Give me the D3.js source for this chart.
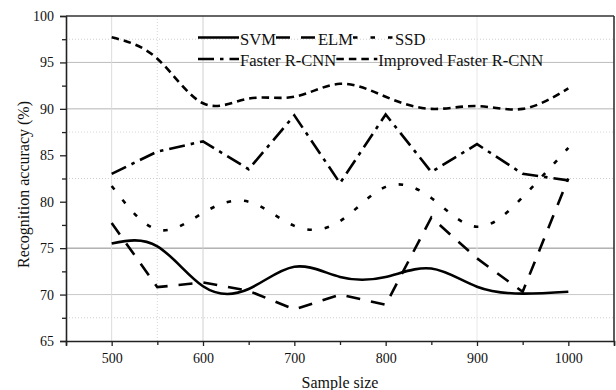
<!DOCTYPE html>
<html>
<head>
<meta charset="utf-8">
<script src="https://cdn.jsdelivr.net/npm/d3@7"></script>
<style>
  body { margin: 0; background: #fff; }
</style>
</head>
<body>
<div id="chart"></div>
<script>
// values
var sampleSizes = [500, 550, 600, 650, 700, 750, 800, 850, 900, 950, 1000];
var svmAcc      = [75.5, 75.2, 70.9, 70.6, 73.0, 71.9, 71.9, 72.8, 70.85, 70.1, 70.3];
var elmAcc      = [77.7, 70.8, 71.3, 70.4, 68.4, 70.0, 68.9, 78.3, 73.9, 70.3, 82.5];
var ssdAcc      = [81.7, 77.0, 78.8, 80.0, 77.4, 77.9, 81.6, 80.4, 77.3, 80.5, 85.8];
var fasterAcc   = [83.0, 85.4, 86.5, 83.5, 89.3, 82.0, 89.4, 83.2, 86.2, 83.0, 82.3];
var improvedAcc = [97.7, 95.4, 90.6, 91.1, 91.3, 92.7, 91.3, 90.0, 90.3, 90.0, 92.2];

var xTicks = [500, 600, 700, 800, 900, 1000];
var xMinorTicks = [450, 550, 650, 750, 850, 950, 1050];
var yTicks = [65, 70, 75, 80, 85, 90, 95, 100];
var yMinorTicks = [67.5, 72.5, 77.5, 82.5, 87.5, 92.5, 97.5];

var serif = "'Liberation Serif', 'Times New Roman', serif";

var margin = {top: 16, right: 2, bottom: 49, left: 66},
    width = 616 - margin.left - margin.right,
    height = 390 - margin.top - margin.bottom;

var svg = d3.select("#chart")
  .append("svg")
    .attr("width", 616)
    .attr("height", 390)
  .append("g")
    .attr("transform", "translate(" + margin.left + "," + margin.top + ")");

var x = d3.scaleLinear().domain([450, 1050]).range([0, width]);
var y = d3.scaleLinear().domain([65, 100]).range([height, 0]);

// grid (only the lines that show up in the figure)
var hGrid = [{v: 70, c: "#c8c8c8", d: null}, {v: 75, c: "#8a8a8a", d: null},
             {v: 90, c: "#b4b4b4", d: null}, {v: 95, c: "#bdbdbd", d: null},
             {v: 67.5, c: "#cfcfcf", d: "1,2"}, {v: 82.5, c: "#cfcfcf", d: "1,2"},
             {v: 87.5, c: "#d6d6d6", d: "1,2"}, {v: 97.5, c: "#cfcfcf", d: "1,2"}];
var vGrid = [{v: 500, c: "#dcdcdc", d: null}, {v: 550, c: "#d6d6d6", d: "1,2"},
             {v: 600, c: "#d0d0d0", d: null}, {v: 900, c: "#e8e8e8", d: null}];

svg.selectAll(".hgrid")
  .data(hGrid)
  .enter()
  .append("line")
    .attr("x1", 0).attr("x2", width)
    .attr("y1", d => y(d.v)).attr("y2", d => y(d.v))
    .attr("stroke", d => d.c)
    .attr("stroke-width", 1)
    .attr("stroke-dasharray", d => d.d);

svg.selectAll(".vgrid")
  .data(vGrid)
  .enter()
  .append("line")
    .attr("y1", 0).attr("y2", height)
    .attr("x1", d => x(d.v)).attr("x2", d => x(d.v))
    .attr("stroke", d => d.c)
    .attr("stroke-width", 1)
    .attr("stroke-dasharray", d => d.d);

// axes
svg.append("g")
  .attr("transform", "translate(0," + height + ")")
  .call(d3.axisBottom(x).tickValues(xTicks).tickSize(5).tickPadding(7).tickFormat(d3.format("d")));
svg.append("g")
  .attr("transform", "translate(0," + height + ")")
  .call(d3.axisBottom(x).tickValues(xMinorTicks).tickSize(4).tickFormat(""))
  .call(g => g.select(".domain").remove());

svg.append("g")
  .call(d3.axisLeft(y).tickValues(yTicks).tickSize(6).tickPadding(6));
svg.append("g")
  .call(d3.axisLeft(y).tickValues(yMinorTicks).tickSize(4).tickFormat(""))
  .call(g => g.select(".domain").remove());

svg.selectAll(".domain").attr("stroke", "#222").attr("stroke-width", 1.6);
svg.selectAll(".tick line").attr("stroke", "#222").attr("stroke-width", 1.3);
svg.selectAll(".tick text")
  .style("font-family", serif)
  .style("font-size", "14px")
  .attr("fill", "#111");

// top and right frame
svg.append("line").attr("x1", 0).attr("x2", width).attr("y1", 0).attr("y2", 0)
  .attr("stroke", "#333").attr("stroke-width", 1.6);
svg.append("line").attr("x1", width).attr("x2", width).attr("y1", 0).attr("y2", height)
  .attr("stroke", "#333").attr("stroke-width", 1.6);

// axis titles
svg.append("text")
  .attr("x", width / 2)
  .attr("y", height + 47)
  .style("text-anchor", "middle")
  .style("font-family", serif)
  .style("font-size", "16px")
  .attr("fill", "#111")
  .text("Sample size");

svg.append("text")
  .attr("transform", "translate(" + (-37) + "," + (height / 2 + 6) + ") rotate(-90)")
  .style("text-anchor", "middle")
  .style("font-family", serif)
  .style("font-size", "16px")
  .attr("fill", "#111")
  .text("Recognition accuracy (%)");

// series
var series = [
  {name: "SVM", values: svmAcc, dash: null, curve: d3.curveNatural},
  {name: "ELM", values: elmAcc, dash: "14,11", curve: d3.curveLinear},
  {name: "SSD", values: ssdAcc, dash: "4.5,13", curve: d3.curveNatural},
  {name: "Faster R-CNN", values: fasterAcc, dash: "16,6,3.5,6", curve: d3.curveLinear},
  {name: "Improved Faster R-CNN", values: improvedAcc, dash: "7.5,5", curve: d3.curveNatural}
];

series.forEach(function(s) {
  var line = d3.line()
    .x((d, i) => x(sampleSizes[i]))
    .y(d => y(d))
    .curve(s.curve);
  svg.append("path")
    .datum(s.values)
    .attr("fill", "none")
    .attr("stroke", "#000")
    .attr("stroke-width", 2.6)
    .attr("stroke-dasharray", s.dash)
    .attr("d", line);
});

// legend, two rows flowing left to right
var legendRows = [[0, 1, 2], [3, 4]];
var legendX = 198 - margin.left, legendY = [37.5 - margin.top, 59 - margin.top];
legendRows.forEach(function(row, r) {
  var cx = legendX;
  row.forEach(function(idx) {
    var s = series[idx];
    svg.append("line")
      .attr("x1", cx).attr("x2", cx + 41)
      .attr("y1", legendY[r]).attr("y2", legendY[r])
      .attr("stroke", "#000")
      .attr("stroke-width", 2.6)
      .attr("stroke-dasharray", s.dash);
    var t = svg.append("text")
      .attr("x", cx + 42)
      .attr("y", legendY[r] + 7)
      .style("font-family", serif)
      .style("font-size", "16.6px")
      .attr("fill", "#111")
      .text(s.name);
    cx = cx + 42 + t.node().getComputedTextLength();
  });
});
</script>
</body>
</html>
